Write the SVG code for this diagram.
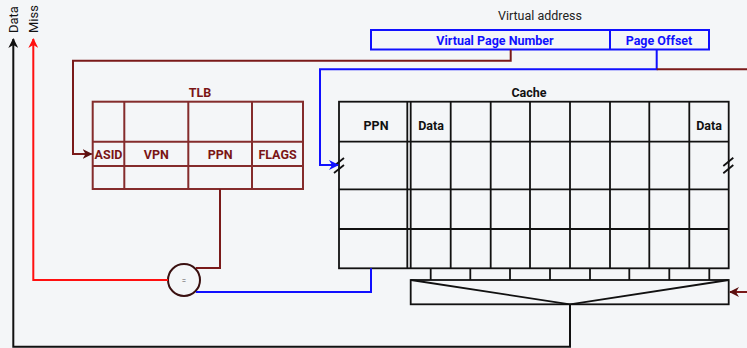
<svg xmlns="http://www.w3.org/2000/svg" width="747" height="348" viewBox="0 0 747 348">
  <defs>
    <style>
      text { font-family: Roboto, "Liberation Sans", sans-serif; font-size: 12.5px; }
      .tlb { fill: none; stroke: #842c2c; stroke-width: 2; }
      .tlbt { fill: #7a1515; font-weight: bold; text-anchor: middle; }
      .grid { fill: none; stroke: #111; stroke-width: 1.8; }
      .ct { fill: #111; font-weight: bold; text-anchor: middle; }
      .va { fill: none; stroke: #1010ff; stroke-width: 2; }
      .vat { fill: #1010ff; font-weight: bold; text-anchor: middle; }
      .wire { fill: none; stroke-width: 2; }
      .blk { stroke: #111; }
      .red { stroke: #ff1010; }
      .blue { stroke: #1010ff; }
      .brn { stroke: #7a1a1a; }
    </style>
    <marker id="ah-black" viewBox="0 0 10 10" refX="9" refY="5" markerWidth="5" markerHeight="5" orient="auto" markerUnits="strokeWidth">
      <path d="M0,0 L10,5 L0,10 L3,5 z" fill="#111"/>
    </marker>
    <marker id="ah-red" viewBox="0 0 10 10" refX="9" refY="5" markerWidth="5" markerHeight="5" orient="auto" markerUnits="strokeWidth">
      <path d="M0,0 L10,5 L0,10 L3,5 z" fill="#ff1010"/>
    </marker>
    <marker id="ah-blue" viewBox="0 0 10 10" refX="9" refY="5" markerWidth="5" markerHeight="5" orient="auto" markerUnits="strokeWidth">
      <path d="M0,0 L10,5 L0,10 L3,5 z" fill="#1010ff"/>
    </marker>
    <marker id="ah-brn" viewBox="0 0 10 10" refX="9" refY="5" markerWidth="5" markerHeight="5" orient="auto" markerUnits="strokeWidth">
      <path d="M0,0 L10,5 L0,10 L3,5 z" fill="#5a1010"/>
    </marker>
  </defs>

  <rect width="747" height="348" fill="#f4f6f8"/>

  <!-- output labels -->
  <g id="outputs">
    <text transform="translate(18,33) rotate(-90)" fill="#111" style="font-size:13px">Data</text>
    <text transform="translate(38,33) rotate(-90)" fill="#111" style="font-size:13px">Miss</text>
  </g>

  <!-- virtual address register -->
  <g id="virtual-address">
    <text x="540" y="20" text-anchor="middle" fill="#222">Virtual address</text>
    <rect class="va" x="371" y="30" width="338" height="19.5"/>
    <line class="va" x1="610" y1="30" x2="610" y2="49.5"/>
    <text class="vat" x="495" y="44.5">Virtual Page Number</text>
    <text class="vat" x="659" y="44.5">Page Offset</text>
  </g>

  <!-- TLB -->
  <g id="tlb">
    <text class="tlbt" x="200" y="97">TLB</text>
    <rect class="tlb" x="92.7" y="101.7" width="210.3" height="87.3"/>
    <line class="tlb" x1="92.7" y1="141.7" x2="303" y2="141.7"/>
    <line class="tlb" x1="92.7" y1="166" x2="303" y2="166"/>
    <line class="tlb" x1="124.3" y1="101.7" x2="124.3" y2="189"/>
    <line class="tlb" x1="188.3" y1="101.7" x2="188.3" y2="189"/>
    <line class="tlb" x1="252" y1="101.7" x2="252" y2="189"/>
    <text class="tlbt" x="108.5" y="158.5">ASID</text>
    <text class="tlbt" x="156.3" y="158.5">VPN</text>
    <text class="tlbt" x="220.2" y="158.5">PPN</text>
    <text class="tlbt" x="277.5" y="158.5">FLAGS</text>
  </g>

  <!-- cache array -->
  <g id="cache">
    <text class="ct" x="529" y="97">Cache</text>
    <rect class="grid" x="339" y="101.7" width="389.7" height="166.6"/>
    <path class="grid" d="M339,141.7 H728.7 M339,189.3 H728.7 M339,229 H728.7"/>
    <path class="grid" d="M407.3,101.7 V268.3 M410.7,101.7 V268.3 M450.7,101.7 V268.3 M490.7,101.7 V268.3 M530,101.7 V268.3 M570,101.7 V268.3 M610,101.7 V268.3 M649.3,101.7 V268.3 M689.3,101.7 V268.3"/>
    <text class="ct" x="376" y="130">PPN</text>
    <text class="ct" x="431" y="130">Data</text>
    <text class="ct" x="709" y="130">Data</text>
    <path class="grid" d="M334,166 L344,158 M334,173 L344,165 M723.3,166 L733.3,157.7 M723.3,173.3 L733.3,165"/>
  </g>

  <!-- way select multiplexer -->
  <g id="mux">
    <path class="grid" d="M430.7,268.3 V280 M470.3,268.3 V280 M510,268.3 V280 M550,268.3 V280 M590,268.3 V280 M629.3,268.3 V280 M669.3,268.3 V280 M709.3,268.3 V280"/>
    <rect class="grid" x="410.7" y="280" width="318" height="24.3"/>
    <path class="grid" d="M411,280 L570,304.3 L728.7,280"/>
  </g>

  <!-- tag comparator -->
  <g id="comparator">
    <circle cx="184" cy="280" r="16" fill="#f4f6f8" stroke="#3a1010" stroke-width="2"/>
    <text x="184" y="283" text-anchor="middle" fill="#555" style="font-size:8px">=</text>
  </g>

  <!-- connectors -->
  <g id="connectors">
    <!-- data out -->
    <path class="wire blk" d="M570,304.3 V346.7 H13.3 V39" marker-end="url(#ah-black)"/>
    <!-- miss out -->
    <path class="wire red" d="M168,280 H33.3 V39" marker-end="url(#ah-red)"/>
    <!-- PPN from TLB to comparator -->
    <path class="wire brn" d="M220,189 V268 H196"/>
    <!-- PPN from cache to comparator -->
    <path class="wire blue" d="M371,268.3 V292 H196"/>
    <!-- VPN to TLB -->
    <path class="wire brn" d="M510.7,49.5 V60.7 H73 V154 H91.5" marker-end="url(#ah-brn)"/>
    <!-- page offset index into cache -->
    <path class="wire blue" d="M656.7,49.5 V69.3 H320 V165 H338" marker-end="url(#ah-blue)"/>
    <path class="wire brn" d="M656.7,69.3 H747"/>
    <!-- way select into mux -->
    <path class="wire brn" d="M747,292 H730" marker-end="url(#ah-brn)"/>
  </g>
</svg>
